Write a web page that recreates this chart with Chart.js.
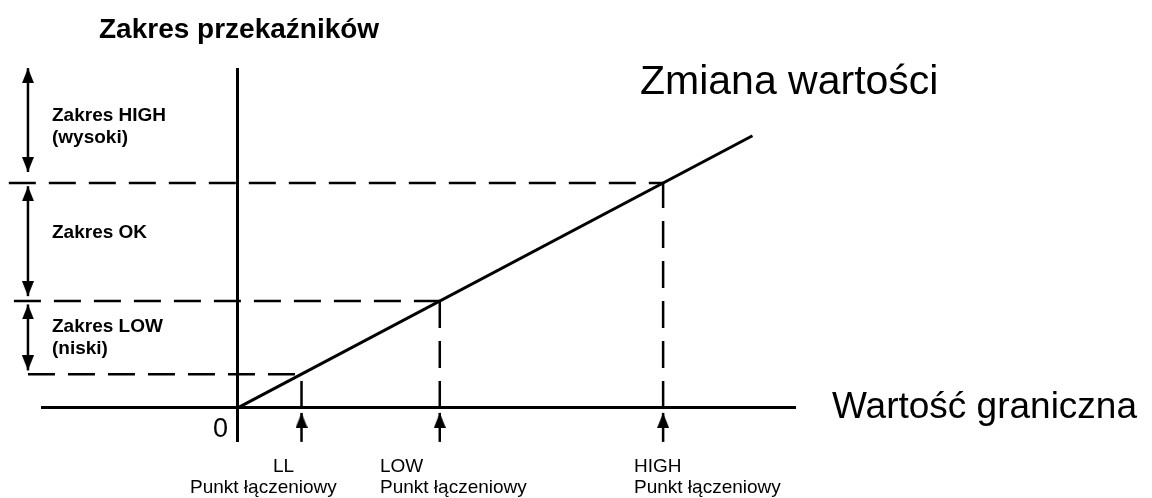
<!DOCTYPE html>
<html>
<head>
<meta charset="utf-8">
<script src="https://cdn.jsdelivr.net/npm/chart.js@4.4.1/dist/chart.umd.min.js"></script>
<style>
  html, body { margin: 0; padding: 0; background: #fff; }
</style>
</head>
<body>
<canvas id="relay-chart" width="1152" height="498"></canvas>
<script>
// switching points on the input axis; the output follows y = x
const switchNames = ['LL', 'LOW', 'HIGH']
const switchPoints = [15, 47.5, 100]
const lineEnd = 121

// visible extent of both axes
const xRange = [-46, 131]
const yRange = [-14.7, 150.7]

// left end of each dashed level line (LL, LOW, HIGH)
const levelStart = [-49.3, -52.6, -53.8]

// double arrows marking the ranges: [lower tip, upper tip]
const arrowX = -49.3
const rangeArrows = [[16.7, 46], [49.7, 98.6], [104.9, 151.1]]
const rangeLabels = [['Zakres LOW', '(niski)'], ['Zakres OK'], ['Zakres HIGH', '(wysoki)']]

// pointer arrows under the axis: [shaft end, tip]
const pointerArrow = [-15.1, -2.2]

const ink = '#000'
const font = '"Liberation Sans", Arial, sans-serif'

// arrow head with its tip in the middle of the canvas, so the tip lands on the point
function arrowHead(w, h) {
  const c = document.createElement('canvas')
  c.width = w
  c.height = h * 2
  const g = c.getContext('2d')
  g.fillStyle = ink
  g.beginPath()
  g.moveTo(w / 2, h)
  g.lineTo(w, h * 2)
  g.lineTo(0, h * 2)
  g.closePath()
  g.fill()
  return c
}
const head = arrowHead(12, 15)

// radius only widens the in-area test, the image keeps its own size
const plain = { borderColor: ink, pointRadius: 0, fill: false, clip: false, showLine: true }

const datasets = [
  { ...plain, borderWidth: 3, data: [{ x: 0, y: 0 }, { x: lineEnd, y: lineEnd }] }
]

switchPoints.forEach((p, i) => {
  datasets.push({ ...plain, borderWidth: 2.5, borderDash: [27, 13],
    data: [{ x: levelStart[i], y: p }, { x: p, y: p }] })
  datasets.push({ ...plain, borderWidth: 2.5, borderDash: [27, 13],
    data: [{ x: p, y: 0 }, { x: p, y: p }] })
  datasets.push({ ...plain, borderWidth: 2.5, pointStyle: head, pointRadius: [0, 30], pointRotation: 0,
    data: [{ x: p, y: pointerArrow[0] }, { x: p, y: pointerArrow[1] }] })
})

rangeArrows.forEach(([lo, hi]) => {
  datasets.push({ ...plain, borderWidth: 2.5, pointStyle: head, pointRadius: 30, pointRotation: [180, 0],
    data: [{ x: arrowX, y: lo }, { x: arrowX, y: hi }] })
})

const labels = {
  id: 'labels',
  afterDraw(chart) {
    const ctx = chart.ctx
    ctx.save()
    ctx.fillStyle = ink
    ctx.textBaseline = 'alphabetic'
    ctx.textAlign = 'left'

    ctx.font = `bold 28px ${font}`
    ctx.fillText('Zakres przekaźników', 99, 38)

    ctx.font = `41px ${font}`
    ctx.fillText('Zmiana wartości', 640, 94)
    ctx.font = `37px ${font}`
    ctx.fillText('Wartość graniczna', 832, 418)

    ctx.font = `27px ${font}`
    ctx.fillText('0', 213, 437)

    // range names to the right of the double arrows
    ctx.font = `bold 19px ${font}`
    const rangeBase = [332, 238, 121]
    rangeLabels.forEach((lines, i) => {
      lines.forEach((t, k) => ctx.fillText(t, 52, rangeBase[i] + k * 22))
    })

    // switching point captions below the axis
    ctx.font = `19px ${font}`
    const nameX = [273, 380, 634]
    const captionX = [190, 380, 634]
    switchNames.forEach((n, i) => {
      ctx.fillText(n, nameX[i], 472)
      ctx.fillText('Punkt łączeniowy', captionX[i], 493)
    })
    ctx.restore()
  }
}

new Chart(document.getElementById('relay-chart'), {
  type: 'scatter',
  data: { datasets },
  options: {
    responsive: false,
    animation: false,
    devicePixelRatio: 1,
    layout: { padding: { left: 42, right: 357, top: 69, bottom: 57 } },
    plugins: { legend: { display: false }, tooltip: { enabled: false } },
    scales: {
      x: {
        type: 'linear', min: xRange[0], max: xRange[1], position: { y: 0 },
        grid: { display: false, drawTicks: false },
        border: { color: ink, width: 3 },
        ticks: { display: false }
      },
      y: {
        type: 'linear', min: yRange[0], max: yRange[1], position: { x: 0 },
        grid: { display: false, drawTicks: false },
        border: { color: ink, width: 3 },
        ticks: { display: false }
      }
    }
  },
  plugins: [labels]
})
</script>
</body>
</html>
